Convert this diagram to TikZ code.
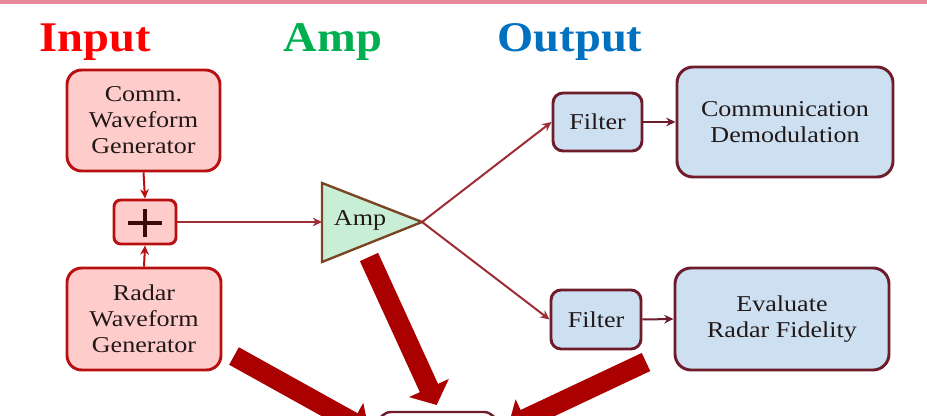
\documentclass[tikz,border=0pt]{standalone}
\usepackage{fontspec}
\setmainfont{Liberation Serif}[FakeStretch=1.15]
\newfontfamily\titlefont{Liberation Serif}[FakeStretch=1.1]
\usetikzlibrary{arrows.meta}
\definecolor{bandpink}{HTML}{E8879A}
\definecolor{ttlred}{HTML}{FF0000}
\definecolor{ttlgreen}{HTML}{00B050}
\definecolor{ttlblue}{HTML}{0070C0}
\definecolor{boxpink}{HTML}{FFCCCC}
\definecolor{boxred}{HTML}{B81010}
\definecolor{boxblue}{HTML}{CCE0F2}
\definecolor{boxmaroon}{HTML}{6E1C2A}
\definecolor{ampgreen}{HTML}{C8EED6}
\definecolor{ampbrown}{HTML}{7A4525}
\definecolor{linkbrown}{HTML}{9E2E36}
\definecolor{bigred}{HTML}{AA0000}
\definecolor{txtdark}{HTML}{221818}
\definecolor{plusdark}{HTML}{3A0A0A}
\begin{document}
\begin{tikzpicture}[x=0.75pt,y=-0.75pt,
  boxtext/.style={align=center, text=txtdark, font=\fontsize{17}{19.5}\selectfont, inner sep=0pt},
  redbox/.style={boxtext, draw=boxred, fill=boxpink, line width=2.2pt, rounded corners=11pt},
  bluebox/.style={boxtext, draw=boxmaroon, fill=boxblue, line width=2.2pt, rounded corners=12pt},
  filterbox/.style={bluebox, rounded corners=7.5pt},
  ttl/.style={font=\titlefont\bfseries\fontsize{31.7}{36}\selectfont, anchor=base, inner sep=0pt},
  thinarrow/.style={line width=1.5pt, -{Stealth[length=7pt,width=6.5pt]}},
  bigarrow/.style={draw=bigred, line width=15pt, -{Triangle[length=14pt,width=32pt]}}]
\useasboundingbox (0,0) rectangle (927,416);
\clip (0,0) rectangle (927,416);
\fill[white] (0,0) rectangle (927,416);
\fill[bandpink] (0,0) rectangle (927,4.5);

% titles
\node[ttl, text=ttlred] (tin) at (95,52) {Input};
\node[ttl, text=ttlgreen] (tamp) at (333,52) {Amp};
\node[ttl, text=ttlblue] (tout) at (570,52) {Output};

% input side
\node[redbox, minimum width=114.75pt, minimum height=75.75pt] (comm) at (143.5,120.5) {Comm.\\Waveform\\Generator};
\node[redbox, rounded corners=5pt, minimum width=46.5pt, minimum height=33pt] (plus) at (145,222) {};
\draw[plusdark, line width=3pt] ([xshift=-13.1pt,yshift=-0.7pt]plus.center) -- ([xshift=13.1pt,yshift=-0.7pt]plus.center);
\draw[plusdark, line width=3pt] ([yshift=9.8pt]plus.center) -- ([yshift=-11.2pt]plus.center);
\node[redbox, minimum width=115.5pt, minimum height=76.5pt] (radar) at (144,319) {Radar\\Waveform\\Generator};

\draw[thinarrow, boxred] (comm.south) -- (plus.north);
\draw[thinarrow, boxred] (radar.north) -- (plus.south);

% amplifier
\coordinate (ampin) at (322,222);
\coordinate (amptip) at (422,222);
\draw[draw=ampbrown, fill=ampgreen, line width=1.8pt, line join=miter] (322,183) -- (amptip) -- (322,262) -- cycle;
\node[boxtext] (amplabel) at (360,220) {Amp};
\draw[thinarrow, linkbrown] (plus.east) -- (ampin);

% output side
\node[filterbox, minimum width=66.75pt, minimum height=43.5pt] (filt1) at (597.5,122) {Filter};
\node[bluebox, minimum width=162pt, minimum height=82.5pt] (demod) at (785,122) {Communication\\Demodulation};
\node[filterbox, minimum width=67.5pt, minimum height=44.25pt] (filt2) at (596,319.5) {Filter};
\node[bluebox, minimum width=160.5pt, minimum height=76.5pt] (evalr) at (782,319) {Evaluate\\Radar Fidelity};

\draw[thinarrow, linkbrown] (amptip) -- (filt1.west);
\draw[thinarrow, linkbrown] (amptip) -- (filt2.west);
\draw[thinarrow, boxmaroon] (filt1.east) -- (demod.west);
\draw[thinarrow, boxmaroon] (filt2.east) -- (evalr.west);

% bottom box (partly visible)
\node[draw=boxmaroon, fill=white, line width=1.8pt, rounded corners=10pt, minimum width=89.25pt, minimum height=36pt, inner sep=0pt] (bottom) at (437.5,436) {};

% big arrows
\coordinate (a1s) at (234,356);
\coordinate (a1e) at (369,431);
\coordinate (a2s) at (369,257);
\coordinate (a2e) at (436.7,405);
\coordinate (a3s) at (646,362);
\coordinate (a3e) at (508,427);
\draw[bigarrow] (a1s) -- (a1e);
\draw[bigarrow] (a2s) -- (a2e);
\draw[bigarrow] (a3s) -- (a3e);
\end{tikzpicture}
\end{document}
